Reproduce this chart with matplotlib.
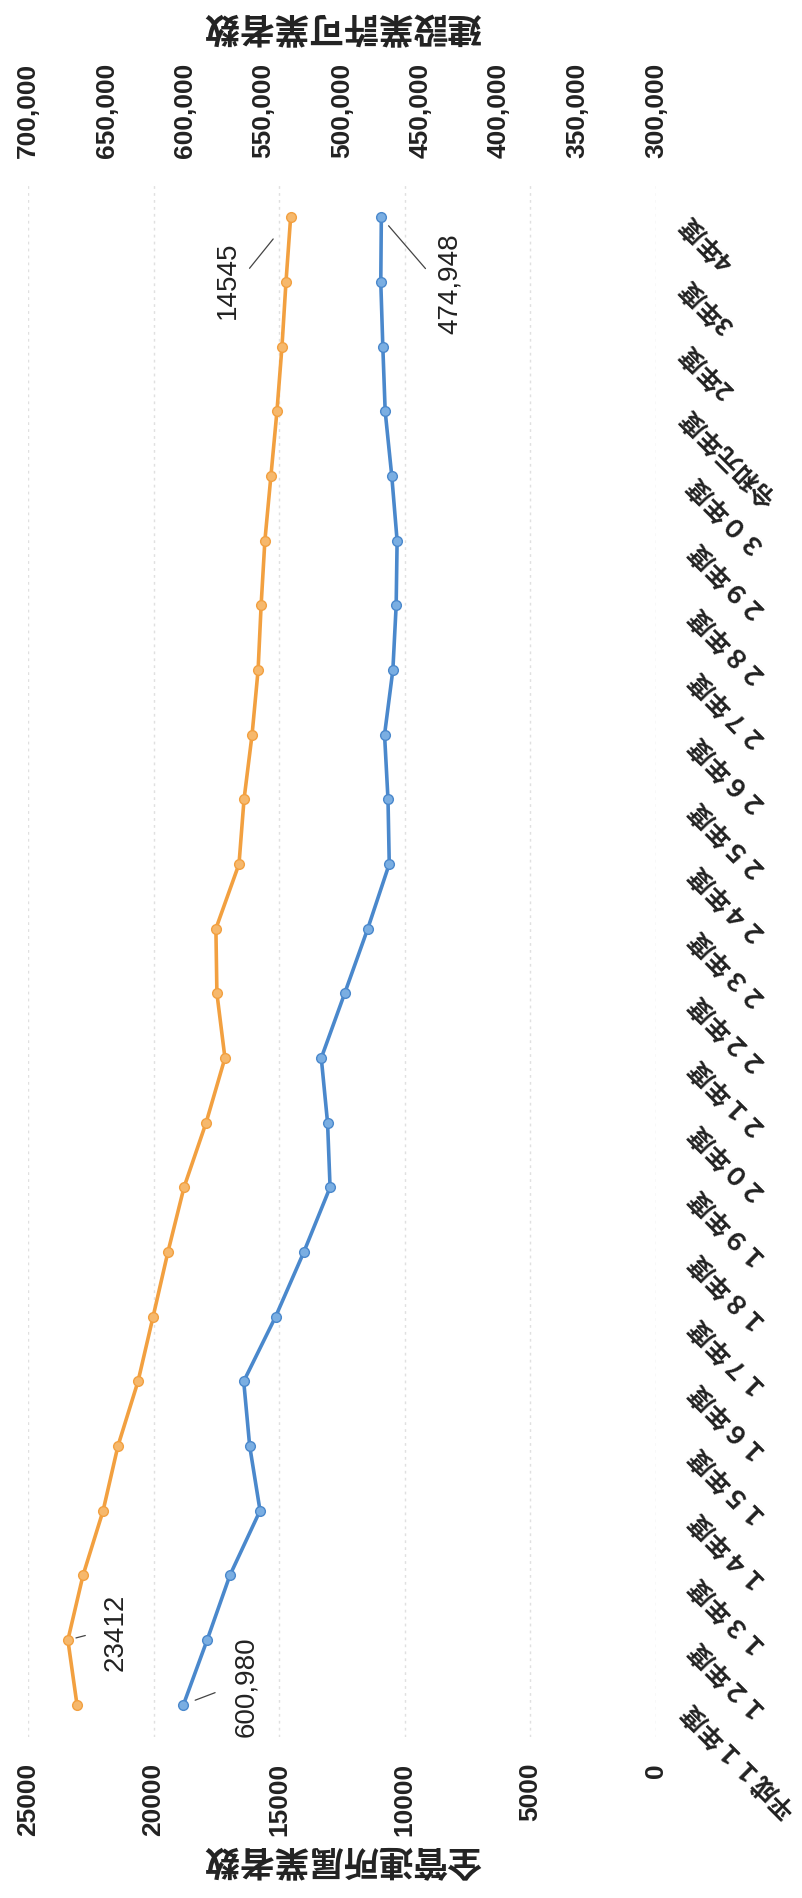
import matplotlib.pyplot as plt
import numpy as np
from matplotlib.ticker import FuncFormatter

plt.rcParams['font.family'] = ['Liberation Sans', 'Noto Sans CJK JP', 'DejaVu Sans']

# data
years = ['平成１１年度', '１２年度', '１３年度', '１４年度', '１５年度', '１６年度',
         '１７年度', '１８年度', '１９年度', '２０年度', '２１年度', '２２年度',
         '２３年度', '２４年度', '２５年度', '２６年度', '２７年度', '２８年度',
         '２９年度', '３０年度', '令和元年度', '2年度', '3年度', '4年度']
zenkanren = [23050, 23412, 22810, 22010, 21420, 20620, 20020, 19430, 18790, 17910,
             17160, 17480, 17520, 16600, 16400, 16080, 15840, 15720, 15570, 15330,
             15090, 14890, 14730, 14545]
kyoka = [600980, 585900, 571400, 552200, 558800, 562600, 542300, 524300, 507600, 509200,
         513200, 498300, 483600, 469900, 470700, 472900, 467600, 465500, 464900, 468300,
         472500, 474000, 475300, 474948]

W, H = 803, 1899
orange = '#F2A040'
blue = '#4A88CC'

fig = plt.figure(figsize=(W / 100, H / 100), dpi=100)
ax = fig.add_axes([28 / W, (H - 1738) / H, 628 / W, (1738 - 186) / H])
pos = np.arange(len(years))

ax.set_ylim(-0.5, len(years) - 0.5)
ax.set_xlim(25000, 0)
ax.set_xticks(np.arange(0, 25001, 5000))
ax.grid(axis='x', color='#e0e0e0', lw=1, ls=(0, (2, 3)))
ax.set_axisbelow(True)
ax.plot(zenkanren, pos, color=orange, lw=2.6, marker='o', ms=7,
        mfc='#F6B86C', mec=orange, zorder=3)

ax2 = ax.twiny()
ax2.set_xlim(700000, 300000)
ax2.set_xticks(np.arange(300000, 700001, 50000))
ax2.xaxis.set_major_formatter(FuncFormatter(lambda v, p: f'{int(v):,}'))
ax2.plot(kyoka, pos, color=blue, lw=2.6, marker='o', ms=7,
         mfc='#7AAEE2', mec=blue, zorder=3)

for a in (ax, ax2):
    for s in a.spines.values():
        s.set_visible(False)

ax.tick_params(axis='x', length=0, pad=18, labelsize=19, labelrotation=90)
ax2.tick_params(axis='x', length=0, pad=20, labelsize=19, labelrotation=90)
for lbl in ax.get_xticklabels() + ax2.get_xticklabels():
    lbl.set_fontweight('bold')
    lbl.set_color('#222222')

ax.yaxis.tick_right()
ax.set_yticks(pos)
ax.set_yticklabels(years, fontfamily='Noto Sans CJK JP', fontsize=18, fontweight='bold',
                   rotation=135, ha='right', va='center', rotation_mode='anchor',
                   color='#222222')
ax.tick_params(axis='y', length=0, pad=21)

# data labels with leader lines
lead = dict(arrowstyle='-', color='#444444', lw=0.9)
ax.annotate(f'{zenkanren[-1]}', xy=(zenkanren[-1], pos[-1]), xytext=(-63, -62),
            textcoords='offset pixels', rotation=90, ha='center', va='center',
            fontsize=20, color='#222222',
            arrowprops=dict(lead, relpos=(1, 0.5), shrinkA=7, shrinkB=20))
ax.annotate(f'{zenkanren[1]}', xy=(zenkanren[1], pos[1]), xytext=(48, 9),
            textcoords='offset pixels', rotation=90, ha='center', va='center',
            fontsize=20, color='#222222',
            arrowprops=dict(lead, relpos=(0, 0.5), shrinkA=11, shrinkB=6))
ax2.annotate(f'{kyoka[-1]:,}', xy=(kyoka[-1], pos[-1]), xytext=(69, -65),
             textcoords='offset pixels', rotation=90, ha='center', va='center',
             fontsize=20, color='#222222',
             arrowprops=dict(lead, relpos=(0, 0.5), shrinkA=10, shrinkB=8))
ax2.annotate(f'{kyoka[0]:,}', xy=(kyoka[0], pos[0]), xytext=(63, 19),
             textcoords='offset pixels', rotation=90, ha='center', va='center',
             fontsize=20, color='#222222',
             arrowprops=dict(lead, relpos=(0, 0.5), shrinkA=12, shrinkB=9))

# axis titles (whole chart is turned on its side)
fig.text(342 / W, 1 - 1859 / H, '全管連所属業者数', rotation=180, ha='center', va='center',
         fontsize=25, fontweight='bold', family='Noto Sans CJK JP', color='#222222')
fig.text(342 / W, 1 - 26 / H, '建設業許可業者数', rotation=180, ha='center', va='center',
         fontsize=25, fontweight='bold', family='Noto Sans CJK JP', color='#222222')

fig.savefig('out.png', dpi=100, facecolor='white')
